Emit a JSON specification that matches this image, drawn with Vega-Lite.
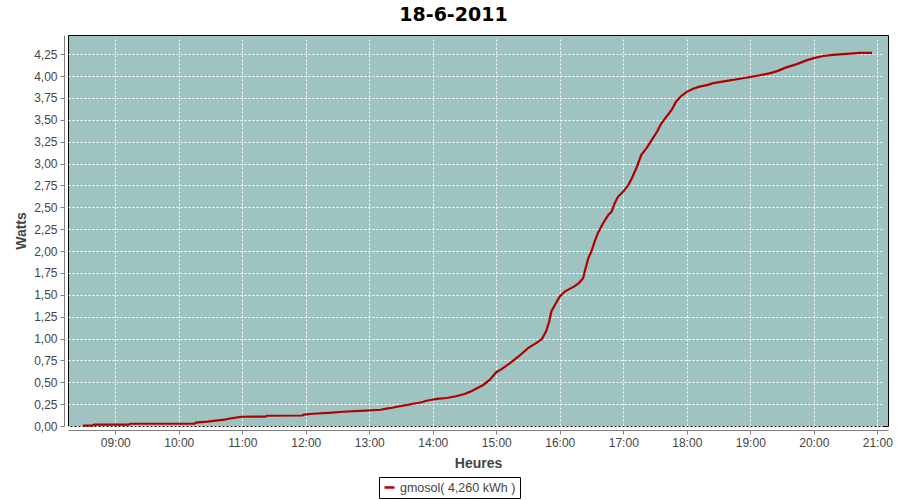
{
  "$schema": "https://vega.github.io/schema/vega-lite/v6.json",
  "width": 820,
  "height": 391,
  "autosize": {"type": "none"},
  "padding": {"left": 68, "top": 35, "right": 12, "bottom": 74},
  "background": "white",
  "title": {
    "text": "18-6-2011",
    "font": "DejaVu Sans",
    "fontSize": 19,
    "fontWeight": "bold",
    "color": "black",
    "anchor": "middle",
    "frame": "bounds",
    "offset": 10
  },
  "config": {
    "view": {"fill": "#9EC3C1", "stroke": "black", "strokeWidth": 1},
    "axis": {
      "labelFont": "Liberation Sans",
      "labelFontSize": 12,
      "labelColor": "#444444",
      "titleFont": "Liberation Sans",
      "titleFontSize": 14,
      "titleFontWeight": "bold",
      "titleColor": "#444444",
      "domainColor": "#808080",
      "tickColor": "#808080",
      "tickSize": 4,
      "gridColor": "white",
      "gridDash": [2, 2],
      "gridWidth": 1,
      "gridOpacity": 1,
      "offset": 4
    }
  },
  "data": {
    "values": [
      {"t": "2011-06-18T08:29:30", "v": 0.005, "s": "gmosol( 4,260 kWh )"},
      {"t": "2011-06-18T08:39:00", "v": 0.006, "s": "gmosol( 4,260 kWh )"},
      {"t": "2011-06-18T08:40:00", "v": 0.015, "s": "gmosol( 4,260 kWh )"},
      {"t": "2011-06-18T09:13:00", "v": 0.015, "s": "gmosol( 4,260 kWh )"},
      {"t": "2011-06-18T09:14:00", "v": 0.026, "s": "gmosol( 4,260 kWh )"},
      {"t": "2011-06-18T10:15:00", "v": 0.026, "s": "gmosol( 4,260 kWh )"},
      {"t": "2011-06-18T10:16:00", "v": 0.038, "s": "gmosol( 4,260 kWh )"},
      {"t": "2011-06-18T10:27:00", "v": 0.049, "s": "gmosol( 4,260 kWh )"},
      {"t": "2011-06-18T10:35:00", "v": 0.061, "s": "gmosol( 4,260 kWh )"},
      {"t": "2011-06-18T10:43:00", "v": 0.072, "s": "gmosol( 4,260 kWh )"},
      {"t": "2011-06-18T10:47:00", "v": 0.083, "s": "gmosol( 4,260 kWh )"},
      {"t": "2011-06-18T10:54:00", "v": 0.095, "s": "gmosol( 4,260 kWh )"},
      {"t": "2011-06-18T10:59:00", "v": 0.106, "s": "gmosol( 4,260 kWh )"},
      {"t": "2011-06-18T11:22:00", "v": 0.108, "s": "gmosol( 4,260 kWh )"},
      {"t": "2011-06-18T11:23:00", "v": 0.117, "s": "gmosol( 4,260 kWh )"},
      {"t": "2011-06-18T11:57:00", "v": 0.12, "s": "gmosol( 4,260 kWh )"},
      {"t": "2011-06-18T11:58:00", "v": 0.13, "s": "gmosol( 4,260 kWh )"},
      {"t": "2011-06-18T12:07:00", "v": 0.14, "s": "gmosol( 4,260 kWh )"},
      {"t": "2011-06-18T12:25:00", "v": 0.152, "s": "gmosol( 4,260 kWh )"},
      {"t": "2011-06-18T12:35:00", "v": 0.163, "s": "gmosol( 4,260 kWh )"},
      {"t": "2011-06-18T12:56:00", "v": 0.175, "s": "gmosol( 4,260 kWh )"},
      {"t": "2011-06-18T13:11:00", "v": 0.186, "s": "gmosol( 4,260 kWh )"},
      {"t": "2011-06-18T13:16:00", "v": 0.198, "s": "gmosol( 4,260 kWh )"},
      {"t": "2011-06-18T13:22:00", "v": 0.209, "s": "gmosol( 4,260 kWh )"},
      {"t": "2011-06-18T13:26:00", "v": 0.22, "s": "gmosol( 4,260 kWh )"},
      {"t": "2011-06-18T13:32:00", "v": 0.232, "s": "gmosol( 4,260 kWh )"},
      {"t": "2011-06-18T13:37:00", "v": 0.243, "s": "gmosol( 4,260 kWh )"},
      {"t": "2011-06-18T13:41:00", "v": 0.254, "s": "gmosol( 4,260 kWh )"},
      {"t": "2011-06-18T13:47:00", "v": 0.266, "s": "gmosol( 4,260 kWh )"},
      {"t": "2011-06-18T13:51:00", "v": 0.277, "s": "gmosol( 4,260 kWh )"},
      {"t": "2011-06-18T13:54:00", "v": 0.289, "s": "gmosol( 4,260 kWh )"},
      {"t": "2011-06-18T13:59:00", "v": 0.3, "s": "gmosol( 4,260 kWh )"},
      {"t": "2011-06-18T14:04:00", "v": 0.31, "s": "gmosol( 4,260 kWh )"},
      {"t": "2011-06-18T14:13:00", "v": 0.32, "s": "gmosol( 4,260 kWh )"},
      {"t": "2011-06-18T14:22:00", "v": 0.34, "s": "gmosol( 4,260 kWh )"},
      {"t": "2011-06-18T14:30:00", "v": 0.366, "s": "gmosol( 4,260 kWh )"},
      {"t": "2011-06-18T14:35:00", "v": 0.39, "s": "gmosol( 4,260 kWh )"},
      {"t": "2011-06-18T14:40:00", "v": 0.42, "s": "gmosol( 4,260 kWh )"},
      {"t": "2011-06-18T14:48:00", "v": 0.472, "s": "gmosol( 4,260 kWh )"},
      {"t": "2011-06-18T14:54:00", "v": 0.53, "s": "gmosol( 4,260 kWh )"},
      {"t": "2011-06-18T15:00:00", "v": 0.615, "s": "gmosol( 4,260 kWh )"},
      {"t": "2011-06-18T15:05:00", "v": 0.65, "s": "gmosol( 4,260 kWh )"},
      {"t": "2011-06-18T15:13:00", "v": 0.72, "s": "gmosol( 4,260 kWh )"},
      {"t": "2011-06-18T15:21:00", "v": 0.795, "s": "gmosol( 4,260 kWh )"},
      {"t": "2011-06-18T15:30:00", "v": 0.89, "s": "gmosol( 4,260 kWh )"},
      {"t": "2011-06-18T15:38:00", "v": 0.95, "s": "gmosol( 4,260 kWh )"},
      {"t": "2011-06-18T15:43:00", "v": 0.994, "s": "gmosol( 4,260 kWh )"},
      {"t": "2011-06-18T15:47:00", "v": 1.08, "s": "gmosol( 4,260 kWh )"},
      {"t": "2011-06-18T15:50:00", "v": 1.195, "s": "gmosol( 4,260 kWh )"},
      {"t": "2011-06-18T15:52:00", "v": 1.31, "s": "gmosol( 4,260 kWh )"},
      {"t": "2011-06-18T15:55:30", "v": 1.386, "s": "gmosol( 4,260 kWh )"},
      {"t": "2011-06-18T16:00:00", "v": 1.48, "s": "gmosol( 4,260 kWh )"},
      {"t": "2011-06-18T16:05:00", "v": 1.54, "s": "gmosol( 4,260 kWh )"},
      {"t": "2011-06-18T16:13:00", "v": 1.59, "s": "gmosol( 4,260 kWh )"},
      {"t": "2011-06-18T16:18:00", "v": 1.634, "s": "gmosol( 4,260 kWh )"},
      {"t": "2011-06-18T16:22:00", "v": 1.69, "s": "gmosol( 4,260 kWh )"},
      {"t": "2011-06-18T16:24:00", "v": 1.786, "s": "gmosol( 4,260 kWh )"},
      {"t": "2011-06-18T16:27:00", "v": 1.92, "s": "gmosol( 4,260 kWh )"},
      {"t": "2011-06-18T16:30:00", "v": 2.0, "s": "gmosol( 4,260 kWh )"},
      {"t": "2011-06-18T16:33:00", "v": 2.11, "s": "gmosol( 4,260 kWh )"},
      {"t": "2011-06-18T16:36:00", "v": 2.205, "s": "gmosol( 4,260 kWh )"},
      {"t": "2011-06-18T16:41:00", "v": 2.32, "s": "gmosol( 4,260 kWh )"},
      {"t": "2011-06-18T16:46:00", "v": 2.415, "s": "gmosol( 4,260 kWh )"},
      {"t": "2011-06-18T16:49:00", "v": 2.45, "s": "gmosol( 4,260 kWh )"},
      {"t": "2011-06-18T16:52:00", "v": 2.55, "s": "gmosol( 4,260 kWh )"},
      {"t": "2011-06-18T16:55:00", "v": 2.62, "s": "gmosol( 4,260 kWh )"},
      {"t": "2011-06-18T17:00:00", "v": 2.68, "s": "gmosol( 4,260 kWh )"},
      {"t": "2011-06-18T17:05:00", "v": 2.76, "s": "gmosol( 4,260 kWh )"},
      {"t": "2011-06-18T17:08:00", "v": 2.83, "s": "gmosol( 4,260 kWh )"},
      {"t": "2011-06-18T17:13:00", "v": 2.967, "s": "gmosol( 4,260 kWh )"},
      {"t": "2011-06-18T17:17:00", "v": 3.1, "s": "gmosol( 4,260 kWh )"},
      {"t": "2011-06-18T17:22:00", "v": 3.177, "s": "gmosol( 4,260 kWh )"},
      {"t": "2011-06-18T17:27:00", "v": 3.27, "s": "gmosol( 4,260 kWh )"},
      {"t": "2011-06-18T17:32:00", "v": 3.367, "s": "gmosol( 4,260 kWh )"},
      {"t": "2011-06-18T17:36:00", "v": 3.46, "s": "gmosol( 4,260 kWh )"},
      {"t": "2011-06-18T17:41:00", "v": 3.54, "s": "gmosol( 4,260 kWh )"},
      {"t": "2011-06-18T17:46:00", "v": 3.62, "s": "gmosol( 4,260 kWh )"},
      {"t": "2011-06-18T17:50:00", "v": 3.71, "s": "gmosol( 4,260 kWh )"},
      {"t": "2011-06-18T17:55:00", "v": 3.775, "s": "gmosol( 4,260 kWh )"},
      {"t": "2011-06-18T18:00:00", "v": 3.82, "s": "gmosol( 4,260 kWh )"},
      {"t": "2011-06-18T18:06:00", "v": 3.855, "s": "gmosol( 4,260 kWh )"},
      {"t": "2011-06-18T18:12:00", "v": 3.88, "s": "gmosol( 4,260 kWh )"},
      {"t": "2011-06-18T18:20:00", "v": 3.9, "s": "gmosol( 4,260 kWh )"},
      {"t": "2011-06-18T18:25:00", "v": 3.92, "s": "gmosol( 4,260 kWh )"},
      {"t": "2011-06-18T18:38:00", "v": 3.946, "s": "gmosol( 4,260 kWh )"},
      {"t": "2011-06-18T18:50:00", "v": 3.97, "s": "gmosol( 4,260 kWh )"},
      {"t": "2011-06-18T19:00:00", "v": 3.99, "s": "gmosol( 4,260 kWh )"},
      {"t": "2011-06-18T19:09:00", "v": 4.01, "s": "gmosol( 4,260 kWh )"},
      {"t": "2011-06-18T19:19:00", "v": 4.034, "s": "gmosol( 4,260 kWh )"},
      {"t": "2011-06-18T19:26:00", "v": 4.06, "s": "gmosol( 4,260 kWh )"},
      {"t": "2011-06-18T19:34:00", "v": 4.1, "s": "gmosol( 4,260 kWh )"},
      {"t": "2011-06-18T19:44:00", "v": 4.137, "s": "gmosol( 4,260 kWh )"},
      {"t": "2011-06-18T19:53:00", "v": 4.18, "s": "gmosol( 4,260 kWh )"},
      {"t": "2011-06-18T20:00:00", "v": 4.206, "s": "gmosol( 4,260 kWh )"},
      {"t": "2011-06-18T20:09:00", "v": 4.23, "s": "gmosol( 4,260 kWh )"},
      {"t": "2011-06-18T20:18:00", "v": 4.243, "s": "gmosol( 4,260 kWh )"},
      {"t": "2011-06-18T20:31:00", "v": 4.255, "s": "gmosol( 4,260 kWh )"},
      {"t": "2011-06-18T20:44:00", "v": 4.266, "s": "gmosol( 4,260 kWh )"},
      {"t": "2011-06-18T20:55:00", "v": 4.266, "s": "gmosol( 4,260 kWh )"}
    ]
  },
  "mark": {"type": "line", "strokeWidth": 2.2},
  "encoding": {
    "x": {
      "field": "t",
      "type": "temporal",
      "scale": {
        "domain": [
          {"year": 2011, "month": 6, "date": 18, "hours": 8, "minutes": 15, "seconds": 20},
          {"year": 2011, "month": 6, "date": 18, "hours": 21, "minutes": 10, "seconds": 7}
        ],
        "nice": false
      },
      "axis": {
        "title": "Heures",
        "format": "%H:%M",
        "tickCount": "hour",
        "labelPadding": 3,
        "titlePadding": 8
      }
    },
    "y": {
      "field": "v",
      "type": "quantitative",
      "scale": {"domain": [0, 4.47], "nice": false},
      "axis": {
        "title": "Watts",
        "values": [0, 0.25, 0.5, 0.75, 1, 1.25, 1.5, 1.75, 2, 2.25, 2.5, 2.75, 3, 3.25, 3.5, 3.75, 4, 4.25],
        "labelExpr": "replace(format(datum.value, '.2f'), '.', ',')",
        "labelPadding": 3,
        "titlePadding": 5
      }
    },
    "color": {
      "field": "s",
      "type": "nominal",
      "scale": {"range": ["#B00000"]},
      "legend": {
        "title": null,
        "orient": "none",
        "legendX": 311,
        "legendY": 442,
        "strokeColor": "black",
        "padding": 4,
        "symbolType": "stroke",
        "symbolStrokeWidth": 2.5,
        "labelFont": "Liberation Sans",
        "labelFontSize": 12.5,
        "labelColor": "#444444"
      }
    }
  }
}
